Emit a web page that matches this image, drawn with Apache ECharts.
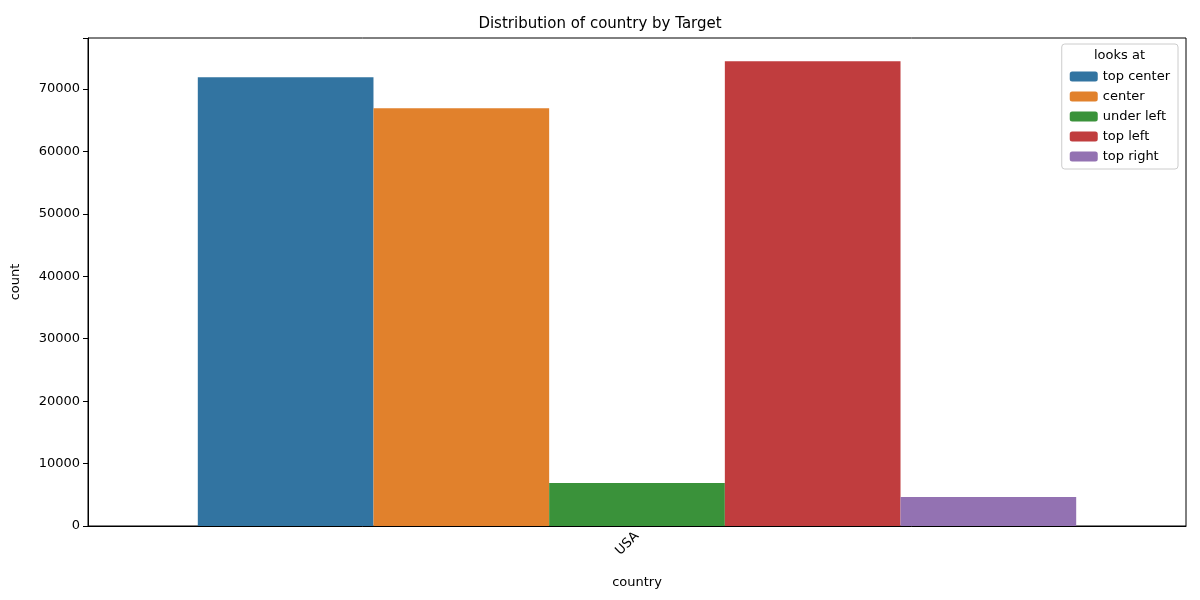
<!DOCTYPE html>
<html><head><meta charset="utf-8">
<script src="https://cdn.jsdelivr.net/npm/echarts@6/dist/echarts.min.js"></script>
<style>html,body{margin:0;padding:0}#c{width:1200px;height:600px}</style>
</head><body><div id="c"></div>
<script>
const categories = ['USA'];
const seriesNames = ['top center', 'center', 'under left', 'top left', 'top right'];
const seriesValues = [[71900], [66900], [6900], [74450], [4650]];
const colors = ['#3274a1', '#e1812c', '#3a923a', '#c03d3e', '#9372b2'];
const yTicks = [0, 10000, 20000, 30000, 40000, 50000, 60000, 70000];

const chart = echarts.init(document.getElementById('c'));
const font = 'DejaVu Sans';
chart.setOption({
  animation: false,
  textStyle: {fontFamily: font},
  title: {text: 'Distribution of country by Target', left: 'center', top: 12,
    textStyle: {fontSize: 15, fontWeight: 'normal', color: '#000', fontFamily: font}},
  grid: {left: 88, right: 14, top: 38, bottom: 74, show: true, borderColor: '#000', borderWidth: 1},
  legend: {orient: 'vertical', right: 22, top: 44, padding: [26, 8, 6, 8],
    borderColor: '#ccc', borderWidth: 1, borderRadius: 3,
    itemWidth: 28, itemHeight: 10, itemGap: 7,
    textStyle: {fontSize: 13, color: '#000', fontFamily: font},
    data: seriesNames},
  graphic: [{type: 'text', right: 55, top: 49, style: {text: 'looks at', fontSize: 13, fill: '#000', fontFamily: font}}],
  xAxis: {type: 'category', data: categories, name: 'country', nameLocation: 'middle', nameGap: 50,
    nameTextStyle: {fontSize: 13, color: '#000'},
    axisLine: {lineStyle: {color: '#000'}}, axisTick: {alignWithLabel: true, lineStyle: {color: '#000'}},
    axisLabel: {rotate: 45, fontSize: 13, color: '#000', margin: 8}},
  yAxis: {type: 'value', min: 0, max: 78170, interval: 10000, name: 'count', nameLocation: 'middle', nameGap: 66,
    nameTextStyle: {fontSize: 13, color: '#000'},
    axisLine: {show: true, lineStyle: {color: '#000'}}, axisTick: {show: true, lineStyle: {color: '#000'}},
    splitLine: {show: false},
    axisLabel: {fontSize: 13, color: '#000', formatter: v => yTicks.includes(v) ? String(v) : ''}},
  series: seriesNames.map((n, i) => ({name: n, type: 'bar', data: seriesValues[i],
    barGap: '0%', barCategoryGap: '20%', itemStyle: {color: colors[i]}}))
});
</script></body></html>
